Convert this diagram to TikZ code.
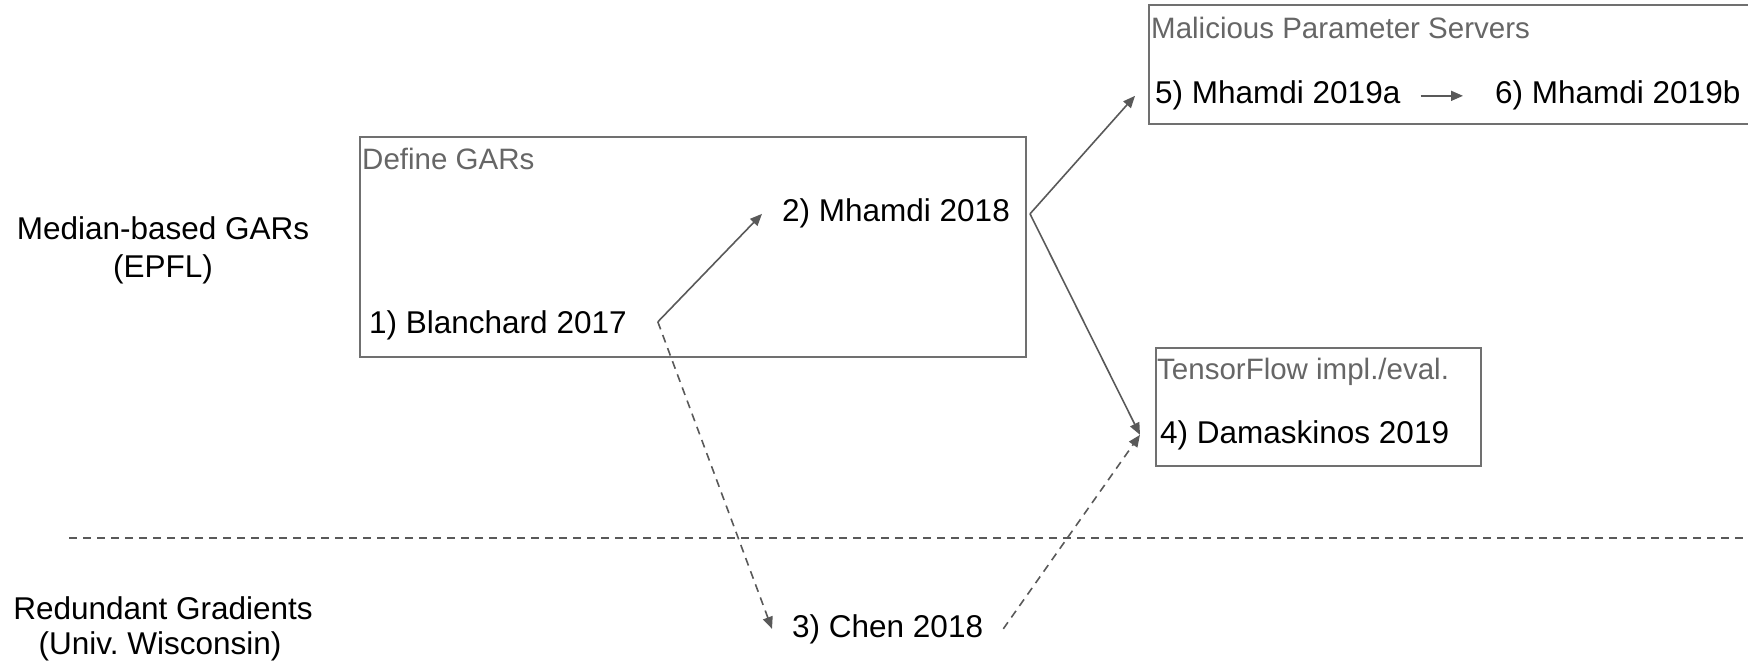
\documentclass[tikz,border=0pt]{standalone}
\usepackage{fontspec}
\setmainfont{Liberation Sans}
\usetikzlibrary{arrows.meta}
\definecolor{linegray}{HTML}{595959}
\definecolor{labelgray}{HTML}{666666}
\definecolor{boxgray}{HTML}{707070}
\frenchspacing
\begin{document}
\begin{tikzpicture}[x=1pt,y=-1pt,
  paper/.style={font=\fontsize{31.5}{37}\selectfont, inner xsep=20pt, inner ysep=0pt, anchor=base west},
  grouptitle/.style={font=\fontsize{29.5}{34}\selectfont, text=labelgray, inner sep=0pt, anchor=base west},
  sidelabel/.style={font=\fontsize{31.5}{37}\selectfont, inner sep=0pt, anchor=base},
  groupbox/.style={draw=boxgray, line width=1.6pt},
  cite/.style={draw=linegray, line width=1.6pt, -{Triangle[length=12pt,width=10pt]}},
  citedash/.style={cite, dash pattern=on 8pt off 6pt},
  divider/.style={draw=linegray, line width=2.2pt, dash pattern=on 8pt off 6pt},
]
\useasboundingbox (0,0) rectangle (1748,663);

% research groups on the left
\node[sidelabel] (epfl1) at (163,240) {Median-based GARs};
\node[sidelabel] (epfl2) at (163,277) {(EPFL)};
\node[sidelabel] (wisc1) at (163,619) {Redundant Gradients};
\node[sidelabel] (wisc2) at (160,654) {(Univ. Wisconsin)};

% separator between the two groups
\coordinate (sepL) at (69,538);
\coordinate (sepR) at (1748,538);
\draw[divider] (sepL) -- (sepR);

% grouping boxes
\draw[groupbox] (360,137) rectangle (1026,357);
\node[grouptitle] (defgars) at (362,170) {Define GARs};
\draw[groupbox] (1149,5) rectangle (1752,124);
\node[grouptitle] (malicious) at (1151,39) {Malicious Parameter Servers};
\draw[groupbox] (1156,348) rectangle (1481,466);
\node[grouptitle] (tfimpl) at (1157,379) {TensorFlow impl./eval.};

% papers
\node[paper] (blanchard) at (349,333) {1) Blanchard 2017};
\node[paper] (mhamdiA) at (762,222) {2) Mhamdi 2018};
\node[paper] (chen) at (772,637) {3) Chen 2018};
\node[paper] (damaskinos) at (1140,443) {4) Damaskinos 2019};
\node[paper] (mhamdiB) at (1135,104) {5) Mhamdi 2019a};
\node[paper] (mhamdiC) at (1475,104) {6) Mhamdi 2019b};

% citations
\coordinate (bOut) at ([xshift=11pt,yshift=3pt]blanchard.east);
\draw[cite] (bOut) -- (mhamdiA.west);
\draw[citedash] (bOut) -- (chen.west);
\draw[cite] (mhamdiA.east) -- (mhamdiB.west);
\draw[cite] (mhamdiA.east) -- (damaskinos.west);
\draw[citedash] (chen.east) -- (damaskinos.west);
\draw[cite, shorten >=12pt] (mhamdiB.east) -- (mhamdiC.west);
\end{tikzpicture}
\end{document}
